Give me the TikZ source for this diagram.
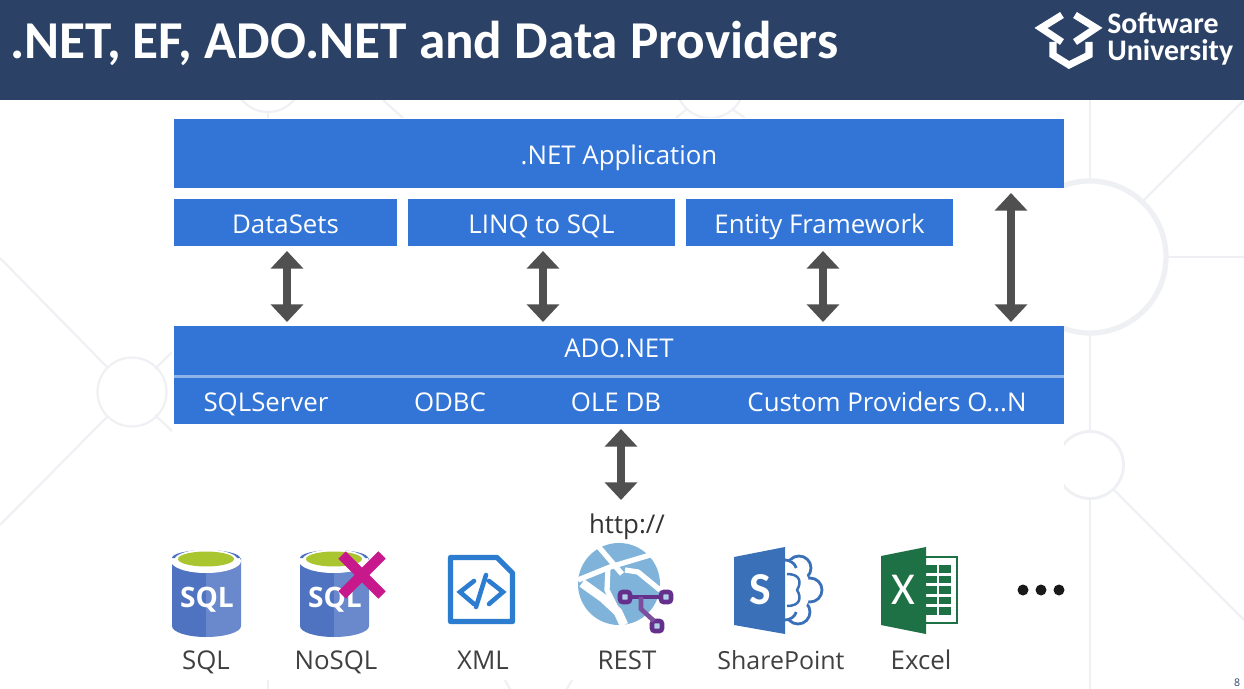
\documentclass[tikz,border=0pt]{standalone}
\usepackage{fontspec}
\setmainfont{Open Sans}
\newfontfamily\titlefont{Carlito}
\usetikzlibrary{arrows.meta}
\definecolor{band}{HTML}{2B4266}
\definecolor{boxblue}{HTML}{3275D6}
\definecolor{faint}{HTML}{EEF0F4}
\definecolor{arrowgray}{HTML}{505050}
\definecolor{labelgray}{HTML}{404040}
\definecolor{dbleft}{HTML}{4F73C0}
\definecolor{dbright}{HTML}{6A88CC}
\definecolor{dbtop}{HTML}{A9C52F}
\definecolor{crossred}{HTML}{C7198C}
\definecolor{xmlblue}{HTML}{2C7CD0}
\definecolor{globeblue}{HTML}{7FB3D9}
\definecolor{restviolet}{HTML}{64308C}
\definecolor{spblue}{HTML}{3A70B8}
\definecolor{xlgreen}{HTML}{1E7144}
\tikzset{
	bluebox/.style={fill=boxblue,text=white,inner sep=0pt,text height=12pt,text depth=0pt,font=\fontsize{14.7}{15}\selectfont},
	sublabel/.style={text=white,inner sep=0pt,anchor=base,font=\fontsize{14.7}{15}\selectfont},
	icontext/.style={text=labelgray,inner sep=0pt,anchor=base,font=\fontsize{14.7}{15}\selectfont},
	iconmark/.style={text=white,inner sep=0pt,font=\fontsize{26}{26}\selectfont\titlefont\bfseries},
	bigarrow/.style={draw=arrowgray,line width=4.4pt,{Stealth[length=10pt,width=18pt,inset=0pt]}-{Stealth[length=10pt,width=18pt,inset=0pt]}},
	backline/.style={draw=faint,line width=1.2pt},
}
% one database drum, #1 is the middle of it
\newcommand{\dbdrum}[1]{
	\fill[dbleft] (#1-34,558)--(#1-34,626) arc[start angle=180,end angle=90,x radius=34,y radius=11]--(#1,558)--cycle;
	\fill[dbright] (#1,558)--(#1,637) arc[start angle=90,end angle=0,x radius=35,y radius=11]--(#1+35,558)--cycle;
	\fill[white] (#1,561) ellipse (35 and 12);
	\fill[dbleft] (#1-34,558) arc[start angle=180,end angle=360,x radius=34,y radius=8]--cycle;
	\fill[white] (#1,560) ellipse (31.5 and 10.5);
	\fill[dbtop] (#1,559) ellipse (28 and 7.5);
}
\begin{document}
\begin{tikzpicture}[x=0.02cm,y=-0.02cm]
	\useasboundingbox (0,0) rectangle (1244,689);
	\fill[white] (0,0) rectangle (1244,689);

	% background pattern
	\draw[backline] (132,392) circle (34.5);
	\draw[backline] (0,258)--(108,368);
	\draw[backline] (108,416)--(0,525);
	\draw[backline] (155,369)--(172,352);
	\draw[backline] (155,415)--(172,431);
	\draw[backline,line width=3pt] (1090,257) circle (76);
	\draw[backline] (1090,100)--(1090,181);
	\draw[backline] (1090,333)--(1090,432);
	\draw[backline] (1090,498)--(1090,689);
	\draw[backline] (1143,201)--(1244,100);
	\draw[backline] (1166,257)--(1244,257);
	\draw[backline] (1113,489)--(1244,620);
	\draw[backline,line width=1.6pt] (1090,465) circle (33.5);
	\draw[backline] (268,78) circle (34);
	\draw[backline] (268,112)--(268,118);
	\draw[backline] (383,100)--(403,118);
	\draw[backline] (710,84) circle (34);
	\draw[backline] (687,109)--(676,118);
	\draw[backline] (732,109)--(745,118);
	\draw[backline] (268,680)--(268,689);
	\draw[backline] (505,680)--(510,689);
	\draw[backline] (572,680)--(567,689);
	\fill[white] (172,118) rectangle (1064,680);

	% title band
	\fill[band] (0,0) rectangle (1244,100);
	\node[text=white,inner sep=0pt,anchor=base west,font=\fontsize{30.3}{30}\selectfont\titlefont\bfseries] (title) at (10,59) {.NET, EF, ADO.NET and Data Providers};
	\node[text=white,inner sep=0pt,anchor=base west,font=\fontsize{17}{17}\selectfont\titlefont\bfseries] (brandA) at (1107,34) {Software};
	\node[text=white,inner sep=0pt,anchor=base west,font=\fontsize{17}{17}\selectfont\titlefont\bfseries] (brandB) at (1107,61) {University};
	\draw[white,line width=4pt] (1062,15)--(1041,28)--(1062,42) (1075,15)--(1096,28)--(1075,42);
	\draw[white,line width=4pt] (1053,42)--(1053,55)--(1069,65)--(1089,55)--(1089,42);

	% boxes
	\node[bluebox,minimum width=890*0.02cm,minimum height=69*0.02cm] (app) at (619,153.5) {.NET Application};
	\node[bluebox,minimum width=223*0.02cm,minimum height=47*0.02cm] (datasets) at (285.5,222.5) {DataSets};
	\node[bluebox,minimum width=267*0.02cm,minimum height=47*0.02cm] (linq) at (541.5,222.5) {LINQ to SQL};
	\node[bluebox,minimum width=267*0.02cm,minimum height=47*0.02cm] (ef) at (819.5,222.5) {Entity Framework};
	\node[bluebox,text height=10pt,text depth=1.5pt,minimum width=890*0.02cm,minimum height=49*0.02cm] (ado) at (619,350.5) {ADO.NET};
	\node[fill=boxblue,inner sep=0pt,minimum width=890*0.02cm,minimum height=46*0.02cm] (providers) at (619,401) {};
	\fill[boxblue!55!white] (174,375) rectangle (1064,378);
	\node[sublabel] (sqlserver) at (266,411) {SQLServer};
	\node[sublabel] (odbc) at (450,411) {ODBC};
	\node[sublabel] (oledb) at (616,411) {OLE DB};
	\node[sublabel] (custom) at (887,411) {Custom Providers O...N};

	% arrows
	\coordinate (dsT) at (287,251);
	\coordinate (dsB) at (287,322);
	\coordinate (lqT) at (543,251);
	\coordinate (lqB) at (543,322);
	\coordinate (efT) at (823,251);
	\coordinate (efB) at (823,322);
	\coordinate (apT) at (1011,193);
	\coordinate (apB) at (1011,322);
	\coordinate (reT) at (621,429);
	\coordinate (reB) at (621,500);
	\draw[bigarrow] (dsT)--(dsB);
	\draw[bigarrow] (lqT)--(lqB);
	\draw[bigarrow] (efT)--(efB);
	\draw[bigarrow] (apT)--(apB);
	\draw[bigarrow] (reT)--(reB);
	\node[icontext,text=black!80] (http) at (627,533) {http://};

	% SQL
	\dbdrum{206}
	\node[text=white,inner sep=0pt,font=\fontsize{16}{16}\selectfont\bfseries] (sqlmark) at (207,600) {SQL};
	\node[icontext] (sql) at (206,669) {SQL};

	% NoSQL
	\dbdrum{334}
	\node[text=white,inner sep=0pt,font=\fontsize{16}{16}\selectfont\bfseries] (nosqlmark) at (335,600) {SQL};
	\draw[crossred,line width=6pt] (342,555)--(382,595) (382,555)--(342,595);
	\node[icontext] (nosql) at (336,669) {NoSQL};

	% XML
	\draw[xmlblue,line width=3pt,line join=round,fill=white] (450.5,557.5)--(497,557.5)--(512.5,573)--(512.5,621.5)--(450.5,621.5)--cycle;
	\draw[xmlblue,line width=2.6pt,line cap=round] (474,581)--(460,592)--(474,604) (489,581)--(503,592)--(489,604) (486,575)--(476,607);
	\node[icontext] (xml) at (483,669) {XML};

	% REST
	\fill[globeblue] (619,584) circle (41);
	\draw[white,line width=3pt] (598,546)--(622,574);
	\draw[white,line width=3pt] (578,580)--(610,567)--(650,555);
	\draw[white,line width=5pt,line join=round] (582,583)--(603,598)--(618,612)--(624,625);
	\draw[white,line width=3pt,line join=round] (608,567)--(607,590)--(618,612);
	\draw[white,line width=3pt,line join=round] (625,570)--(638,572)--(660,590);
	\draw[restviolet,line width=2.6pt,rounded corners=1.5pt,fill=globeblue!60!white] (620,592) rectangle (630,602) (661,592) rectangle (671,602) (652,621) rectangle (662,631);
	\draw[restviolet,line width=2.6pt] (630,597)--(661,597);
	\draw[restviolet!85!white,line width=2.6pt] (641,597)--(641,609)--(654,621);
	\node[icontext] (rest) at (627,669) {REST};

	% SharePoint
	\draw[spblue,line width=1.6pt,fill=white] (799,568) circle (12) (810,590) circle (12) (798,612) circle (12);
	\fill[white] (785,560) rectangle (800,620);
	\fill[white] (800,590) ellipse (10 and 20);
	\draw[spblue,line width=1.6pt] (785,560) arc[start angle=-90,end angle=-20,radius=12];
	\draw[spblue,line width=1.6pt] (785,620) arc[start angle=90,end angle=20,radius=12];
	\draw[spblue,line width=1.4pt] (787,574) .. controls (800,574) and (802,582) .. (797,590) .. controls (802,598) and (800,606) .. (787,606);
	\fill[spblue] (734,557)--(785,547)--(785,634)--(734,625)--cycle;
	\node[iconmark] (spmark) at (760,590) {S};
	\node[icontext,font=\fontsize{14.2}{15}\selectfont] (sharepoint) at (781,669) {SharePoint};

	% Excel
	\draw[xlgreen,line width=1.2pt,fill=white] (921,557) rectangle (957,623);
	\foreach \row in {565,575.5,586,596.5,607}
		\fill[xlgreen] (926,\row) rectangle (951,\row+7.5);
	\draw[white,line width=1.2pt] (938,562)--(938,618);
	\fill[xlgreen] (881,556)--(926,547)--(926,634)--(881,625)--cycle;
	\node[iconmark,font=\fontsize{26}{26}\selectfont\titlefont] (xlmark) at (903,590) {X};
	\node[icontext] (excel) at (921,669) {Excel};

	% more sources
	\foreach \dotx in {1023,1041,1059}
		\fill[black!90] (\dotx,590) circle (5.5);

	\node[text=band,inner sep=0pt,font=\fontsize{6}{6}\selectfont] (pagenum) at (1237,683) {8};
\end{tikzpicture}
\end{document}
